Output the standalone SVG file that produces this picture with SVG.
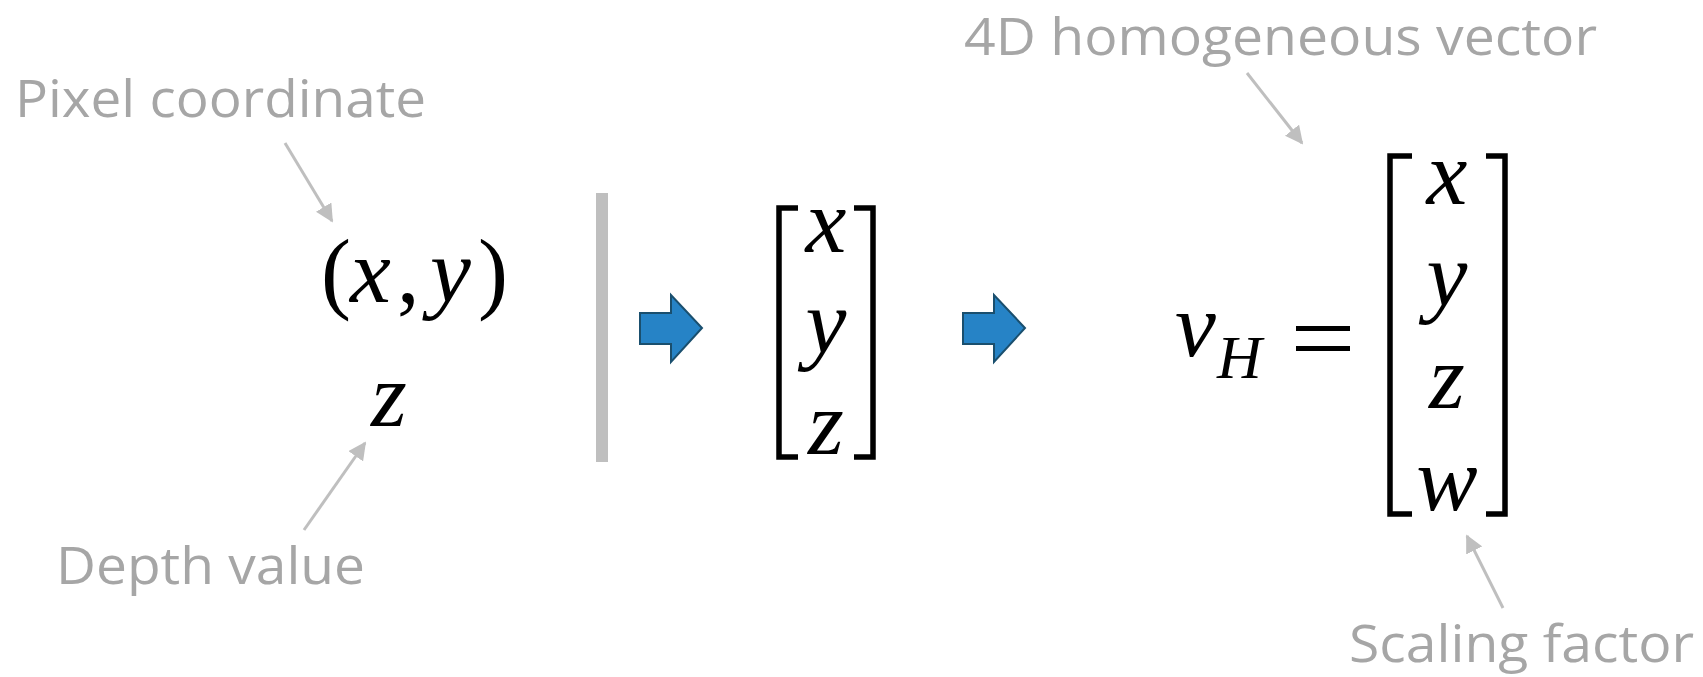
<svg xmlns="http://www.w3.org/2000/svg" width="1703" height="677" viewBox="0 0 1703 677">
<style>
.lbl{font-family:"Open Sans","Liberation Sans",sans-serif;font-size:51px;fill:#a6a6a6}
.m{font-family:"Liberation Serif","DejaVu Serif",serif;font-style:italic;font-size:92px;fill:#000}
.mu{font-family:"Liberation Serif","DejaVu Serif",serif;font-size:90px;fill:#000}
.br{fill:none;stroke:#000;stroke-width:5.5}
.con{stroke:#bfbfbf;stroke-width:3;fill:none;marker-end:url(#ah)}
.blue{fill:#2683c6;stroke:#1a4f6e;stroke-width:2}
</style>
<defs>
<marker id="ah" viewBox="0 0 10 10" refX="9" refY="5" markerWidth="6" markerHeight="6" orient="auto" markerUnits="strokeWidth">
<path d="M0,0 L10,5 L0,10 z" fill="#bfbfbf"/>
</marker>
</defs>
<rect width="1703" height="677" fill="#fff"/>
<g id="label-pixel"><text class="lbl" x="15" y="117" textLength="411" lengthAdjust="spacingAndGlyphs">Pixel coordinate</text></g>
<g id="label-depth"><text class="lbl" x="56" y="584" textLength="309" lengthAdjust="spacingAndGlyphs">Depth value</text></g>
<g id="label-4d"><text class="lbl" x="964" y="55" textLength="633" lengthAdjust="spacingAndGlyphs">4D homogeneous vector</text></g>
<g id="label-scaling"><text class="lbl" x="1349" y="662" textLength="345" lengthAdjust="spacingAndGlyphs">Scaling factor</text></g>
<g id="xy">
<text class="mu" x="321" y="302">(</text>
<text class="m" x="350" y="302">x</text>
<text class="mu" x="397" y="302">,</text>
<text class="m" x="430" y="302">y</text>
<text class="mu" x="478" y="302">)</text>
</g>
<g id="z"><text class="m" x="371" y="426">z</text></g>
<rect id="divider" x="596" y="193" width="12" height="269" fill="#bfbfbf"/>
<g id="blue-arrow-1"><polygon class="blue" points="640,313 671,313 671,295 702,328 671,362 671,344 640,344"/></g>
<g id="blue-arrow-2"><polygon class="blue" points="963,313 994,313 994,295 1025,328 994,362 994,344 963,344"/></g>
<g id="vec3">
<path class="br" d="M798,208 H779 V457 H798"/>
<path class="br" d="M854,208 H873 V457 H854"/>
<text class="m" x="826" y="252" text-anchor="middle">x</text>
<text class="m" x="826" y="353" text-anchor="middle">y</text>
<text class="m" x="826" y="454" text-anchor="middle">z</text>
</g>
<g id="vH">
<text class="m" x="1175" y="356">v</text>
<text class="m" x="1217" y="378" style="font-size:62px">H</text>
<rect x="1296" y="326" width="54" height="5" fill="#000"/>
<rect x="1296" y="346" width="54" height="5" fill="#000"/>
</g>
<g id="vec4">
<path class="br" d="M1412,156 H1390 V514 H1412"/>
<path class="br" d="M1486,156 H1505 V514 H1486"/>
<text class="m" x="1447" y="204" text-anchor="middle">x</text>
<text class="m" x="1447" y="306" text-anchor="middle">y</text>
<text class="m" x="1447" y="408" text-anchor="middle">z</text>
<text class="m" x="1447" y="510" text-anchor="middle">w</text>
</g>
<g id="connectors">
<line class="con" x1="285" y1="143" x2="332" y2="221"/>
<line class="con" x1="304" y1="530" x2="365" y2="443"/>
<line class="con" x1="1247" y1="73" x2="1302" y2="143"/>
<line class="con" x1="1503" y1="608" x2="1467" y2="536"/>
</g>
</svg>
